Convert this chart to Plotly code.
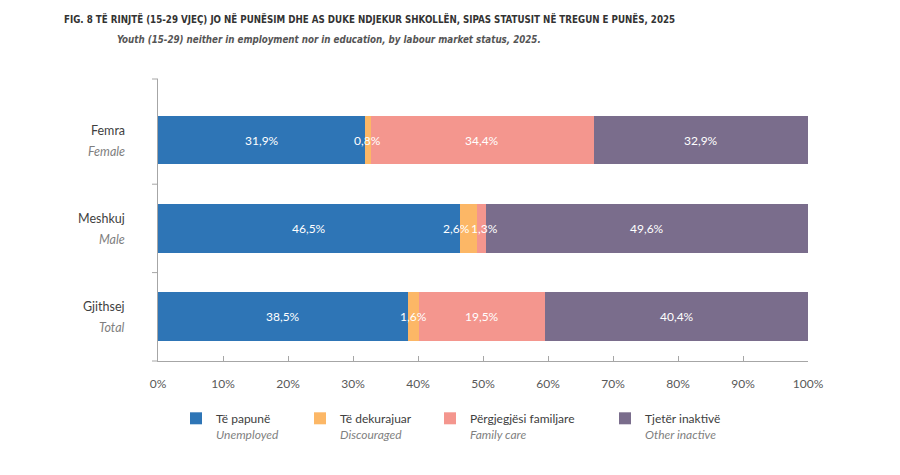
import numpy as np
import plotly.graph_objects as go

categories = ["Femra", "Meshkuj", "Gjithsej"]
categories_en = ["Female", "Male", "Total"]
series_sq = ["Të papunë", "Të dekurajuar", "Përgjegjësi familjare", "Tjetër inaktivë"]
series_en = ["Unemployed", "Discouraged", "Family care", "Other inactive"]
unemployed = [31.9, 46.5, 38.5]
discouraged = [0.8, 2.6, 1.6]
family_care = [34.4, 1.3, 19.5]
other_inactive = [32.9, 49.6, 40.4]
x_ticks = [0, 10, 20, 30, 40, 50, 60, 70, 80, 90, 100]

values = [unemployed, discouraged, family_care, other_inactive]
colors = ["#2E75B6", "#FCB766", "#F4968E", "#7A6D8C"]
FONT = "Lato, 'Open Sans', sans-serif"
TFONT = "'DejaVu Sans Condensed', 'Liberation Sans', sans-serif"

# plot-area geometry (pixels) used to place legends / titles
L, R_EDGE = 158, 808
PW = R_EDGE - L
T, B_EDGE = 79, 361
PH = B_EDGE - T
def px_x(px):
    return (px - L) / PW
def px_y(py):
    return (B_EDGE - py) / PH

legend_left_px = [176, 300, 430, 605]
legend_names = ["legend", "legend2", "legend3", "legend4"]

fig = go.Figure()
for name, en, vals, col, lg in zip(series_sq, series_en, values, colors, legend_names):
    fig.add_trace(go.Bar(
        y=categories, x=vals, orientation="h",
        name=f"{name}<br><i><span style='color:#7F7F7F'>{en}</span></i>",
        marker=dict(color=col, line=dict(width=0)), width=0.55, hoverinfo="x+name",
        legend=lg,
    ))

# segment labels (positions from cumulative data)
arr = np.array(values)
starts = np.vstack([np.zeros(arr.shape[1]), np.cumsum(arr, axis=0)[:-1]])
mids = starts + arr / 2
label_shift = {(1, 1): -12, (2, 1): 3}
for si in range(arr.shape[0]):
    for ci in range(arr.shape[1]):
        fig.add_annotation(
            x=mids[si, ci], xref="x", y=categories[ci], yref="y",
            text=f"{arr[si, ci]:.1f}%".replace(".", ","), showarrow=False,
            xshift=label_shift.get((si, ci), 0),
            font=dict(family=FONT, size=12, color="white"),
        )

# category labels
for cat, en in zip(categories, categories_en):
    fig.add_annotation(x=0, xref="paper", y=cat, yref="y", text=cat, showarrow=False,
                       xanchor="right", xshift=-31, yshift=10,
                       font=dict(family=FONT, size=12.5, color="#3F3F3F"))
    fig.add_annotation(x=0, xref="paper", y=cat, yref="y", text=f"<i>{en}</i>", showarrow=False,
                       xanchor="right", xshift=-31, yshift=-11,
                       font=dict(family=FONT, size=12.5, color="#7F7F7F"))

# y-axis ticks between categories (axis decoration)
for yv, yr in [(1, "paper"), (0.5, "y"), (1.5, "y"), (0, "paper")]:
    fig.add_shape(type="line", xref="paper", yref=yr, xsizemode="pixel", xanchor=0,
                  x0=-6, x1=0, y0=yv, y1=yv, line=dict(color="#A6A6A6", width=1))

# titles
fig.add_annotation(x=px_x(62), xref="paper", y=px_y(19), yref="paper", showarrow=False,
                   xanchor="left", yanchor="middle",
                   text="<b>FIG. 8 TË RINJTË (15-29 VJEÇ) JO NË PUNËSIM DHE AS DUKE NDJEKUR SHKOLLËN, SIPAS STATUSIT NË TREGUN E PUNËS, 2025</b>",
                   font=dict(family=TFONT, size=9.7, color="#333333"))
fig.add_annotation(x=px_x(115), xref="paper", y=px_y(39), yref="paper", showarrow=False,
                   xanchor="left", yanchor="middle",
                   text="<b><i>Youth (15-29) neither in employment nor in education, by labour market status, 2025.</i></b>",
                   font=dict(family=TFONT, size=9.7, color="#555555"))

legend_common = dict(orientation="h", xanchor="left", y=px_y(404), yanchor="top",
                     font=dict(family=FONT, size=12, color="#404040"), valign="top",
                     bgcolor="rgba(0,0,0,0)")
layout_legends = {lg: dict(x=px_x(lx), **legend_common) for lg, lx in zip(legend_names, legend_left_px)}

fig.update_layout(
    width=900, height=475, barmode="stack",
    margin=dict(l=L, r=900 - R_EDGE, t=T, b=475 - B_EDGE),
    plot_bgcolor="white", paper_bgcolor="white",
    font=dict(family=FONT, size=12, color="#595959"),
    xaxis=dict(range=[0, 100], tickmode="array", tickvals=x_ticks,
               ticktext=[f"{v}%" for v in x_ticks], showgrid=False, zeroline=False,
               showline=True, linecolor="#A6A6A6", linewidth=1, ticks="inside", ticklen=5,
               tickcolor="#A6A6A6", ticklabelstandoff=12,
               tickfont=dict(family=FONT, size=12, color="#595959")),
    yaxis=dict(categoryorder="array", categoryarray=categories, range=[2.5, -0.69],
               showticklabels=False, showgrid=False, zeroline=False,
               showline=True, linecolor="#A6A6A6", linewidth=1, ticks=""),
    showlegend=True,
    **layout_legends,
)

fig.write_html("out.html")
